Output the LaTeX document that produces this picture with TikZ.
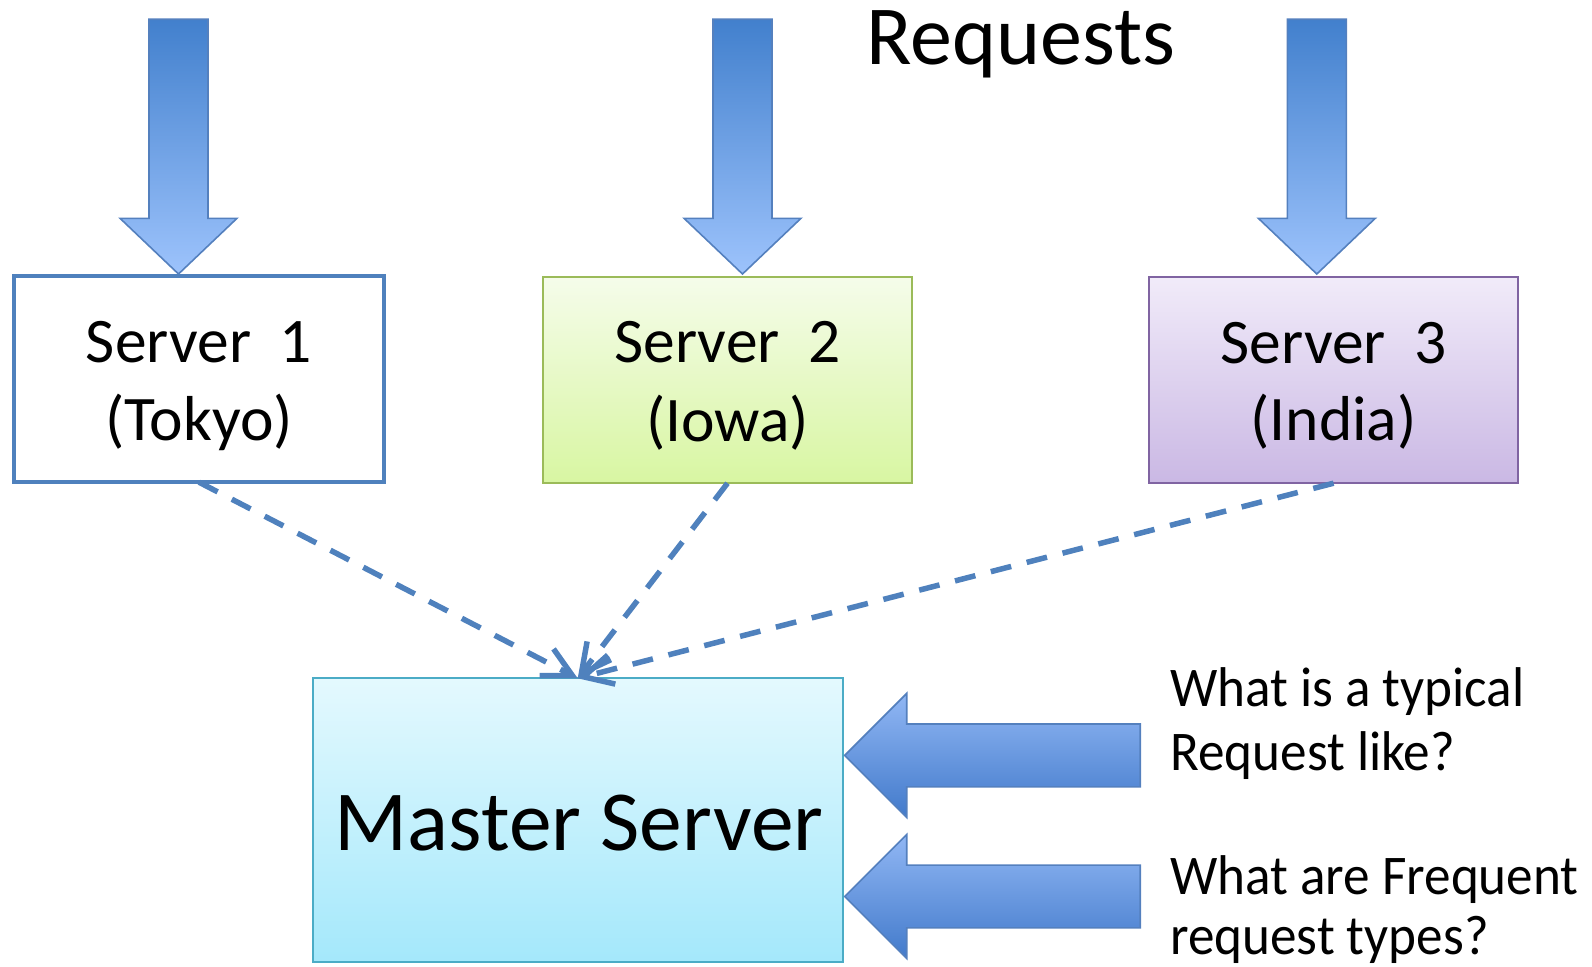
\documentclass[tikz,border=0pt]{standalone}
\usepackage{fontspec}
\setmainfont{Carlito}
\newfontfamily\narrowfont[FakeStretch=0.95]{Carlito}
\usetikzlibrary{arrows.meta}

\definecolor{linkblue}{RGB}{79,129,189}
\definecolor{arrowdark}{RGB}{66,128,205}
\definecolor{arrowlight}{RGB}{157,195,252}
\definecolor{arrowedge}{RGB}{84,128,190}
\definecolor{sidelight}{RGB}{145,183,244}
\definecolor{sidedark}{RGB}{66,122,203}
\definecolor{greenedge}{RGB}{155,187,89}
\definecolor{greentop}{RGB}{245,252,234}
\definecolor{greenbot}{RGB}{216,246,162}
\definecolor{purpleedge}{RGB}{128,100,162}
\definecolor{purpletop}{RGB}{241,235,249}
\definecolor{purplebot}{RGB}{202,184,228}
\definecolor{cyanedge}{RGB}{75,172,198}
\definecolor{cyantop}{RGB}{228,249,254}
\definecolor{cyanbot}{RGB}{164,232,251}

\tikzset{
  x=1pt, y=-1pt,
  srvbox/.style={rectangle, inner sep=0pt, outer sep=0pt,
    minimum width=369pt, minimum height=206pt},
  srvtxt/.style={anchor=base, inner sep=0pt, font=\fontsize{63.5}{76}\selectfont},
  sidetxt/.style={anchor=base west, inner sep=0pt, font=\narrowfont\fontsize{56}{64}\selectfont},
  bigarrow/.style={draw=arrowedge, line width=1.6pt, line join=miter},
  link/.style={draw=linkblue, line width=5.5pt, dash pattern=on 21pt off 16pt,
    -{Straight Barb[length=29pt, width=30pt, line width=5.5pt]}},
  downarr/.pic={
    \path[bigarrow, top color=arrowdark, bottom color=arrowlight]
      (-29.5,19.3) -- (29.5,19.3) -- (29.5,218.3) -- (58.5,218.3)
      -- (0,274) -- (-58.5,218.3) -- (-29.5,218.3) -- cycle;
  },
  leftarr/.pic={
    \path[bigarrow, top color=sidelight, bottom color=sidedark]
      (844.7,0) -- (906.7,-62) -- (906.7,-31.4) -- (1140.2,-31.4)
      -- (1140.2,31.4) -- (906.7,31.4) -- (906.7,62) -- cycle;
  }
}

\begin{document}
\begin{tikzpicture}
\useasboundingbox (0,0) rectangle (1592,966);

% incoming request arrows
\pic at (178.5,0) {downarr};
\pic at (742.5,0) {downarr};
\pic at (1316.8,0) {downarr};

\node[anchor=base, inner sep=0pt, font=\fontsize{84}{100}\selectfont] (req) at (1021,64) {Requests};

% regional servers
\node[srvbox, draw=linkblue, line width=4pt, minimum width=370pt] (s1) at (199,379.2) {};
\node[srvbox, draw=greenedge, line width=1.8pt, top color=greentop, bottom color=greenbot] (s2) at (727.5,380.2) {};
\node[srvbox, draw=purpleedge, line width=1.8pt, top color=purpletop, bottom color=purplebot] (s3) at (1333.6,380.2) {};

\node[srvtxt] (s1a) at (199,362.7) {Server\ \ 1};
\node[srvtxt] (s1b) at (199,440.5) {(Tokyo)};
\node[srvtxt] (s2a) at (727.5,362.7) {Server\ \ 2};
\node[srvtxt] (s2b) at (727.5,441) {(Iowa)};
\node[srvtxt] (s3a) at (1333.6,363) {Server\ \ 3};
\node[srvtxt] (s3b) at (1333.6,440.5) {(India)};

% master server
\node[rectangle, inner sep=0pt, outer sep=0pt, draw=cyanedge, line width=1.8pt,
      top color=cyantop, bottom color=cyanbot,
      minimum width=530pt, minimum height=284pt] (m) at (577.7,820.3) {};
\node[anchor=base, inner sep=0pt, font=\fontsize{85.5}{100}\selectfont] (mt) at (579,850.8) {Master Server};

% reports flowing to the master
\draw[link] (s1.south) -- (m.north);
\draw[link] (s2.south) -- (m.north);
\draw[link] (s3.south) -- (m.north);

% questions answered by the master
\pic at (0,755.4) {leftarr};
\pic at (0,896.5) {leftarr};

\node[sidetxt] (q1a) at (1170,706.5) {What is a typical};
\node[sidetxt] (q1b) at (1170,770.5) {Request like?};
\node[sidetxt] (q2a) at (1170,894) {What are Frequent};
\node[sidetxt] (q2b) at (1170,954) {request types?};
\end{tikzpicture}
\end{document}
